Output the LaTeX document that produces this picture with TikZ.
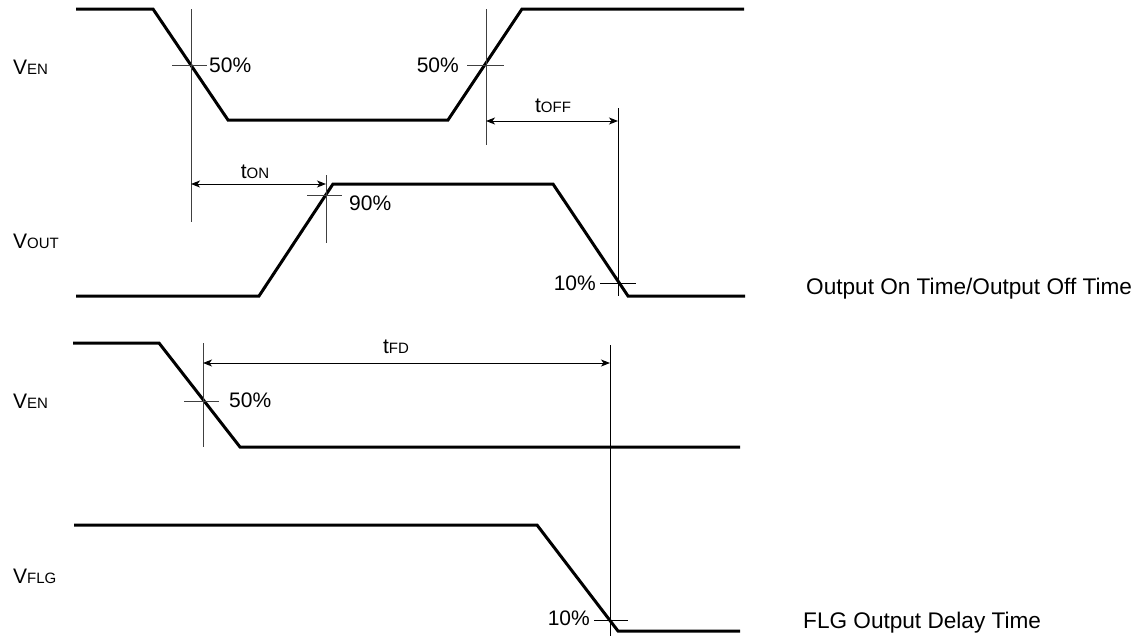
\documentclass[tikz,border=0pt]{standalone}
\usepackage{fontspec}
\setmainfont{Liberation Sans}
\usetikzlibrary{arrows.meta}
\newcommand{\sm}[1]{{\fontsize{15}{15}\selectfont #1}}
\tikzset{
  sig/.style={line width=3pt, line join=miter, line cap=butt},
  thin/.style={line width=1pt, black!75},
  dim/.style={line width=1pt, {Stealth[length=9pt,width=7pt,inset=2.5pt]}-{Stealth[length=9pt,width=7pt,inset=2.5pt]}},
  lbl/.style={inner sep=0pt, font=\fontsize{21}{21}\selectfont},
  captxt/.style={inner sep=0pt, anchor=west, font=\fontsize{22.6}{23}\selectfont},
}
\begin{document}
\begin{tikzpicture}[x=1pt,y=-1pt]
\useasboundingbox (0,0) rectangle (1143,640);
% ---------- panel 1 : V_EN ----------
\coordinate (e1) at (76,9);
\coordinate (e2) at (153,9);
\coordinate (e3) at (228,120);
\coordinate (e4) at (448,120);
\coordinate (e5) at (522,9);
\coordinate (e6) at (744,9);
\draw[sig] (e1) -- (e2) -- (e3) -- (e4) -- (e5) -- (e6);
% ---------- panel 1 : V_OUT ----------
\coordinate (o1) at (76,296);
\coordinate (o2) at (259,296);
\coordinate (o3) at (333,184);
\coordinate (o4) at (553,184);
\coordinate (o5) at (628,296);
\coordinate (o6) at (745,296);
\draw[sig] (o1) -- (o2) -- (o3) -- (o4) -- (o5) -- (o6);
% vertical guides
\coordinate (va1) at (191,9);   \coordinate (va2) at (191,222);
\coordinate (vb1) at (486,9);   \coordinate (vb2) at (486,145);
\coordinate (vc1) at (618,108); \coordinate (vc2) at (618,296);
\coordinate (vd1) at (326,175); \coordinate (vd2) at (326,243);
\draw[thin] (va1) -- (va2);
\draw[thin] (vb1) -- (vb2);
\draw[thin, black] (vc1) -- (vc2);
\draw[thin] (vd1) -- (vd2);
% crosshairs
\coordinate (ha1) at (172,65); \coordinate (ha2) at (207,65);
\coordinate (hb1) at (467,65); \coordinate (hb2) at (504,65);
\coordinate (hd1) at (307,195); \coordinate (hd2) at (342,195);
\coordinate (hc1) at (600,283); \coordinate (hc2) at (636,283);
\draw[thin] (ha1) -- (ha2);
\draw[thin] (hb1) -- (hb2);
\draw[thin] (hd1) -- (hd2);
\draw[thin, black] (hc1) -- (hc2);
% dimension arrows
\coordinate (ton1) at (191,184); \coordinate (ton2) at (326,184);
\coordinate (toff1) at (486,121); \coordinate (toff2) at (618,121);
\draw[dim] (ton1) -- (ton2);
\draw[dim] (toff1) -- (toff2);
% labels
\node[lbl, anchor=west] (lven1) at (13,67) {V\sm{EN}};
\node[lbl, anchor=west] (lvout) at (13,241) {V\sm{OUT}};
\node[lbl, anchor=west] (p50a) at (209,65) {50\%};
\node[lbl, anchor=east] (p50b) at (459,65) {50\%};
\node[lbl, anchor=west] (p90) at (349,203) {90\%};
\node[lbl, anchor=east] (p10a) at (596,283) {10\%};
\node[lbl] (lton) at (255,172) {t\sm{ON}};
\node[lbl] (ltoff) at (553,106) {t\sm{OFF}};
\node[captxt] (cap1) at (806,289) {Output On Time/Output Off Time};
% ---------- panel 2 : V_EN ----------
\coordinate (f1) at (73,343);
\coordinate (f2) at (159,343);
\coordinate (f3) at (240,447);
\coordinate (f4) at (740,447);
\draw[sig] (f1) -- (f2) -- (f3) -- (f4);
% ---------- panel 2 : V_FLG ----------
\coordinate (g1) at (74,525);
\coordinate (g2) at (537,525);
\coordinate (g3) at (618,631);
\coordinate (g4) at (740,631);
\draw[sig] (g1) -- (g2) -- (g3) -- (g4);
% guides
\coordinate (ve1) at (203,343); \coordinate (ve2) at (203,447);
\coordinate (vf1) at (610,345); \coordinate (vf2) at (610,636);
\draw[thin] (ve1) -- (ve2);
\draw[thin, black] (vf1) -- (vf2);
\coordinate (he1) at (184,401); \coordinate (he2) at (219,401);
\coordinate (hf1) at (594,620); \coordinate (hf2) at (628,620);
\draw[thin] (he1) -- (he2);
\draw[thin, black] (hf1) -- (hf2);
\coordinate (tfd1) at (203,363); \coordinate (tfd2) at (610,363);
\draw[dim] (tfd1) -- (tfd2);
\node[lbl, anchor=west] (lven2) at (13,401) {V\sm{EN}};
\node[lbl, anchor=west] (lvflg) at (13,576) {V\sm{FLG}};
\node[lbl, anchor=west] (p50c) at (229,400) {50\%};
\node[lbl, anchor=east] (p10b) at (590,618) {10\%};
\node[lbl] (ltfd) at (396,347) {t\sm{FD}};
\node[captxt] (cap2) at (803,623) {FLG Output Delay Time};
\end{tikzpicture}
\end{document}
